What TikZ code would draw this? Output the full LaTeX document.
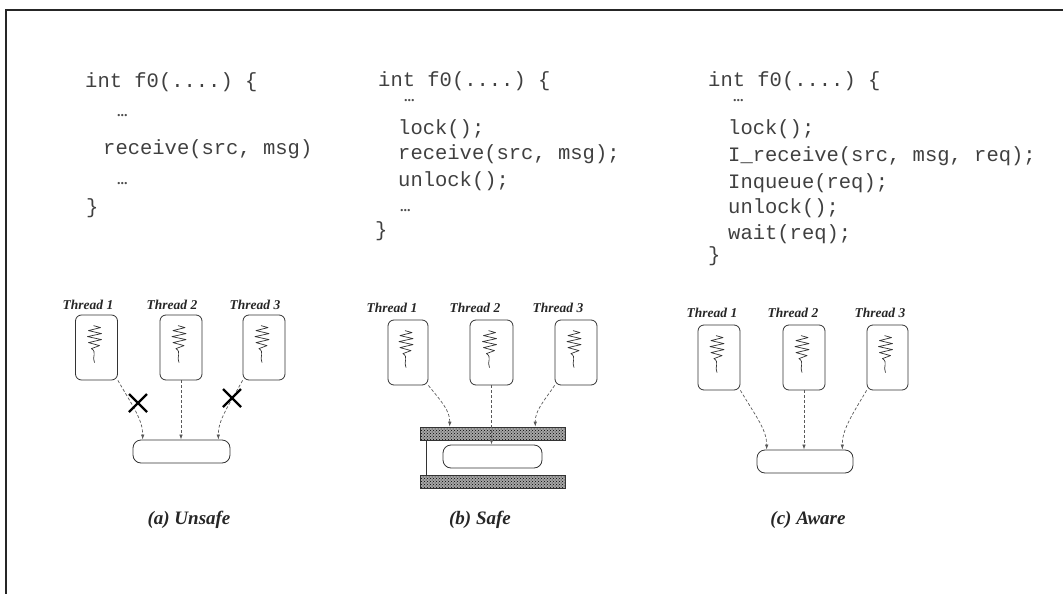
\documentclass[tikz,border=0pt]{standalone}
\usepackage{fontspec}
\setmainfont{Liberation Serif}
\setmonofont{Liberation Mono}
\usetikzlibrary{arrows.meta,patterns}
\begin{document}
\begin{tikzpicture}[x=1pt,y=-1pt,
  code/.style={anchor=base west,inner sep=0pt,font=\fontsize{20.5}{22}\ttfamily,text=black!75},
  dots/.style={anchor=base west,inner sep=0pt,font=\fontsize{14}{14}\bfseries,text=black!70},
  tlabel/.style={inner sep=0pt,font=\fontsize{13.5}{14}\itshape\bfseries,text=black!85},
  tbox/.style={draw=black!80,line width=0.8pt,rounded corners=6pt,minimum width=42pt,minimum height=65pt,inner sep=0pt},
  qbox/.style={draw=black!80,line width=0.8pt,rounded corners=8pt,minimum width=97pt,minimum height=23pt,inner sep=0pt},
  bar/.style={draw=black!80,line width=0.6pt,preaction={fill=black!35},pattern=crosshatch dots,pattern color=black,minimum width=145pt,minimum height=13pt,inner sep=0pt},
  arr/.style={densely dashed,draw=black!65,line width=0.7pt,-{Latex[length=5pt,width=3.5pt]}},
  captext/.style={inner sep=0pt,font=\fontsize{19}{21}\itshape\bfseries,text=black!85},
  xmark/.style={line width=2.3pt,black},
  spring/.pic={\draw[black!80,line width=0.7pt,line join=round]
     (-1,0) -- (6,2) -- (-6,5) -- (7,8) -- (-7,11) -- (7,14) -- (-6,17) -- (5,20) -- (-3,23)
     .. controls (3,27) and (-3,31) .. (0,37);}
]
\useasboundingbox (0,0) rectangle (1063,594);
% frame
\draw[black!85,line width=1.2pt] (6,594) -- (6,10) -- (1063,10);

% ---------- panel (a) code
\node[code] (ac1) at (85,88) {int f0(....) \{};
\node[dots] (ac2) at (117,116) {...};
\node[code] (ac3) at (103,154) {receive(src, msg)};
\node[dots] (ac4) at (117,184) {...};
\node[code] (ac5) at (86,213) {\}};

% ---------- panel (b) code
\node[code] (bc1) at (378,86) {int f0(....) \{};
\node[dots] (bc2) at (404,101) {...};
\node[code] (bc3) at (398,134) {lock();};
\node[code] (bc4) at (398,159) {receive(src, msg);};
\node[code] (bc5) at (398,186) {unlock();};
\node[dots] (bc6) at (400,211) {...};
\node[code] (bc7) at (375,236) {\}};

% ---------- panel (c) code
\node[code] (cc1) at (708,86) {int f0(....) \{};
\node[dots] (cc2) at (733,101) {...};
\node[code] (cc3) at (728,134) {lock();};
\node[code] (cc4) at (728,161) {I\_receive(src, msg, req);};
\node[code] (cc5) at (728,188) {Inqueue(req);};
\node[code] (cc6) at (728,213) {unlock();};
\node[code] (cc7) at (728,239) {wait(req);};
\node[code] (cc8) at (708,261) {\}};

% ---------- panel (a) threads
\node[tbox] (a1) at (96.5,347.5) {};
\node[tbox] (a2) at (181,347.5) {};
\node[tbox] (a3) at (264,347.5) {};
\node[tlabel] (la1) at (88,305) {Thread 1};
\node[tlabel] (la2) at (172,305) {Thread 2};
\node[tlabel] (la3) at (255,305) {Thread 3};
\pic at ([xshift=-2,yshift=-11]a1.north) {spring};
\pic at ([xshift=-2,yshift=-11]a2.north) {spring};
\pic at ([xshift=-2,yshift=-11]a3.north) {spring};
\node[qbox] (qa) at (181.5,451.5) {};
\draw[arr] (a1.south east) .. controls (132,405) and (143,420) .. ([xshift=10]qa.north west);
\draw[arr] (a2.south) -- (a2.south |- qa.north);
\draw[arr] (a3.south west) .. controls (229,405) and (218,420) .. ([xshift=-12]qa.north east);
\draw[xmark] (129,394) -- (147,412) (129,412) -- (147,394);
\draw[xmark] (223,389) -- (241,407) (223,407) -- (241,389);
\node[captext] (capa) at (189,520) {(a) Unsafe};

% ---------- panel (b) threads
\node[tbox,minimum width=40pt] (b1) at (408,352.5) {};
\node[tbox,minimum width=43pt] (b2) at (491.5,352.5) {};
\node[tbox] (b3) at (576,352.5) {};
\node[tlabel] (lb1) at (392,308) {Thread 1};
\node[tlabel] (lb2) at (475,308) {Thread 2};
\node[tlabel] (lb3) at (558,308) {Thread 3};
\pic at ([xshift=-2,yshift=-11]b1.north) {spring};
\pic at ([xshift=-2,yshift=-11]b2.north) {spring};
\pic at ([xshift=-2,yshift=-11]b3.north) {spring};
\node[bar] (tb) at (492.5,433.5) {};
\node[bar] (bb) at (492.5,481.5) {};
\node[qbox,minimum width=99pt] (qb) at (492.5,456.5) {};
\draw[black!80,line width=0.8pt] ([xshift=7]tb.south west) -- ([xshift=7]bb.north west);
\draw[arr] (b1.south east) .. controls (440,400) and (450,410) .. ([xshift=30]tb.north west);
\draw[arr] (b2.south) -- (b2.south |- qb.north);
\draw[arr] (b3.south west) .. controls (545,400) and (535,410) .. ([xshift=-30]tb.north east);
\node[captext] (capb) at (480,520) {(b) Safe};

% ---------- panel (c) threads
\node[tbox] (c1) at (719,357.5) {};
\node[tbox] (c2) at (804,357.5) {};
\node[tbox,minimum width=41pt] (c3) at (887.5,357.5) {};
\node[tlabel] (lc1) at (712,313) {Thread 1};
\node[tlabel] (lc2) at (793,313) {Thread 2};
\node[tlabel] (lc3) at (880,313) {Thread 3};
\pic at ([xshift=-2,yshift=-11]c1.north) {spring};
\pic at ([xshift=-2,yshift=-11]c2.north) {spring};
\pic at ([xshift=-2,yshift=-11]c3.north) {spring};
\node[qbox,minimum width=96pt] (qc) at (805,461.5) {};
\draw[arr] (c1.south east) .. controls (755,415) and (767,430) .. ([xshift=10]qc.north west);
\draw[arr] (c2.south) -- (c2.south |- qc.north);
\draw[arr] (c3.south west) .. controls (852,415) and (842,430) .. ([xshift=-11]qc.north east);
\node[captext] (capc) at (808,520) {(c) Aware};
\end{tikzpicture}
\end{document}
